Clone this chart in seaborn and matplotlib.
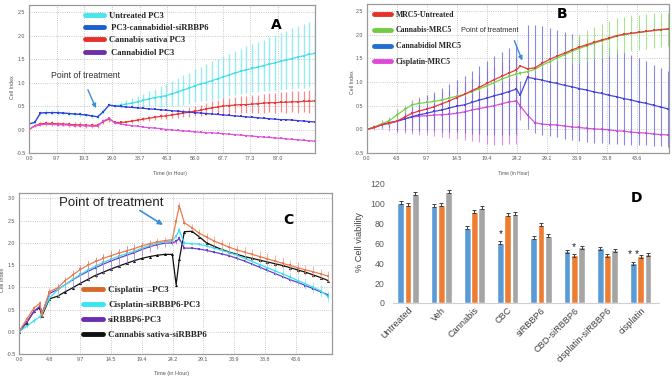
import matplotlib
matplotlib.use("Agg")
import matplotlib.pyplot as plt
import seaborn as sns
import pandas as pd
from matplotlib.lines import Line2D

sns.set_theme(style="white")
plt.rcParams['font.family'] = ['Liberation Sans', 'DejaVu Sans']

# ---------------- panel A : PC3, 0-100 h ----------------
time_a = [0, 2, 4, 6, 8, 10, 12, 14, 16, 18, 20, 22, 24, 26, 28,
          30, 32, 34, 36, 38, 40, 42, 44, 46, 48, 50, 52, 54, 56, 58, 60,
          62, 64, 66, 68, 70, 72, 74, 76, 78, 80, 82, 84, 86, 88, 90,
          92, 94, 96, 98, 100]
untreated_a = [0.12, 0.15, 0.35, 0.36, 0.36, 0.36, 0.35, 0.34, 0.33, 0.32, 0.31, 0.29, 0.27, 0.38, 0.52,
               0.50, 0.52, 0.54, 0.56, 0.59, 0.62, 0.65, 0.68, 0.70, 0.72, 0.76, 0.80, 0.84, 0.88, 0.93, 0.97,
               1.00, 1.04, 1.08, 1.12, 1.16, 1.20, 1.24, 1.27, 1.30, 1.33, 1.36, 1.39, 1.42, 1.45, 1.48,
               1.51, 1.54, 1.57, 1.60, 1.62]
untreated_a_err = [0.02, 0.03, 0.04, 0.05, 0.05, 0.05, 0.05, 0.05, 0.05, 0.05, 0.05, 0.05, 0.05, 0.05, 0.05,
                   0.05, 0.07, 0.08, 0.10, 0.12, 0.14, 0.16, 0.19, 0.22, 0.25, 0.27, 0.29, 0.31, 0.33, 0.35, 0.37,
                   0.39, 0.41, 0.43, 0.44, 0.45, 0.47, 0.48, 0.50, 0.51, 0.53, 0.55, 0.57, 0.59, 0.61, 0.62,
                   0.64, 0.66, 0.68, 0.69, 0.70]
cbd_si_a = [0.12, 0.15, 0.35, 0.36, 0.36, 0.36, 0.35, 0.34, 0.33, 0.32, 0.31, 0.29, 0.27, 0.38, 0.52,
            0.50, 0.49, 0.48, 0.47, 0.46, 0.45, 0.44, 0.43, 0.42, 0.41, 0.40, 0.39, 0.38, 0.37, 0.36, 0.35,
            0.34, 0.33, 0.32, 0.31, 0.30, 0.29, 0.28, 0.27, 0.26, 0.25, 0.24, 0.23, 0.22, 0.21, 0.21,
            0.20, 0.19, 0.18, 0.17, 0.16]
sativa_a = [0.00, 0.08, 0.12, 0.13, 0.13, 0.12, 0.12, 0.11, 0.10, 0.10, 0.09, 0.09, 0.09, 0.17, 0.22,
            0.15, 0.15, 0.16, 0.18, 0.20, 0.22, 0.24, 0.26, 0.28, 0.29, 0.31, 0.33, 0.35, 0.37, 0.39, 0.41,
            0.44, 0.46, 0.48, 0.50, 0.51, 0.52, 0.53, 0.53, 0.54, 0.55, 0.56, 0.57, 0.57, 0.58, 0.58,
            0.59, 0.59, 0.60, 0.60, 0.61]
sativa_a_err = [0.00, 0.03, 0.04, 0.05, 0.05, 0.05, 0.05, 0.05, 0.05, 0.05, 0.05, 0.05, 0.05, 0.05, 0.05,
                0.03, 0.03, 0.03, 0.04, 0.04, 0.04, 0.05, 0.05, 0.06, 0.06, 0.07, 0.08, 0.09, 0.10, 0.11, 0.12,
                0.13, 0.14, 0.15, 0.16, 0.17, 0.17, 0.18, 0.18, 0.19, 0.19, 0.20, 0.20, 0.21, 0.21, 0.22,
                0.22, 0.23, 0.23, 0.24, 0.24]
cbd_a = [0.00, 0.07, 0.10, 0.11, 0.11, 0.10, 0.10, 0.09, 0.08, 0.08, 0.08, 0.07, 0.07, 0.18, 0.24,
         0.14, 0.12, 0.10, 0.08, 0.07, 0.05, 0.04, 0.03, 0.02, 0.00, -0.01, -0.02, -0.03, -0.04, -0.05, -0.06,
         -0.07, -0.07, -0.08, -0.09, -0.10, -0.11, -0.12, -0.13, -0.14, -0.15, -0.16, -0.17, -0.18, -0.19, -0.20,
         -0.21, -0.22, -0.23, -0.24, -0.25]

# ---------------- panel B : MRC5, 0-49 h ----------------
time_b = [0, 1.2, 2.4, 3.6, 4.8, 6.1, 7.3, 8.5, 9.7, 10.9, 12.1, 13.3, 14.5, 15.8, 17.0, 18.2, 19.4,
          20.6, 21.8, 23.0, 24.2, 24.8, 26.0, 27.2, 28.4, 29.6, 30.8, 32.0, 33.2, 34.4, 35.6, 36.8,
          38.0, 39.2, 40.4, 41.6, 42.8, 44.0, 45.2, 46.4, 47.6, 48.8]
untreated_b = [0.00, 0.04, 0.10, 0.14, 0.17, 0.26, 0.34, 0.39, 0.43, 0.48, 0.54, 0.60, 0.67, 0.74, 0.82, 0.89, 0.97,
               1.05, 1.12, 1.19, 1.26, 1.34, 1.28, 1.30, 1.40, 1.48, 1.55, 1.61, 1.68, 1.74, 1.79, 1.84,
               1.89, 1.93, 1.98, 2.01, 2.03, 2.05, 2.07, 2.09, 2.11, 2.12]
cannabis_b = [0.00, 0.05, 0.12, 0.18, 0.30, 0.42, 0.52, 0.55, 0.57, 0.59, 0.62, 0.66, 0.70, 0.74, 0.80, 0.86, 0.92,
              0.99, 1.06, 1.12, 1.17, 1.19, 1.22, 1.27, 1.36, 1.43, 1.51, 1.58, 1.65, 1.71, 1.77, 1.82,
              1.87, 1.92, 1.97, 2.00, 2.03, 2.05, 2.07, 2.09, 2.11, 2.12]
cannabis_b_err = [0.00, 0.02, 0.05, 0.08, 0.10, 0.08, 0.05, 0.04, 0.04, 0.04, 0.04, 0.04, 0.04, 0.04, 0.04, 0.04, 0.04,
                  0.04, 0.04, 0.04, 0.04, 0.05, 0.03, 0.03, 0.04, 0.05, 0.06, 0.08, 0.25, 0.30, 0.32, 0.34,
                  0.36, 0.37, 0.38, 0.38, 0.38, 0.37, 0.37, 0.36, 0.36, 0.35]
cbd_b = [0.00, 0.04, 0.10, 0.14, 0.17, 0.22, 0.27, 0.31, 0.34, 0.38, 0.41, 0.45, 0.49, 0.52, 0.57, 0.62, 0.66,
         0.71, 0.75, 0.80, 0.85, 0.72, 1.10, 1.07, 1.04, 1.00, 0.97, 0.93, 0.90, 0.86, 0.83, 0.79,
         0.76, 0.72, 0.69, 0.65, 0.62, 0.58, 0.55, 0.51, 0.47, 0.43]
cbd_b_err = [0.00, 0.02, 0.05, 0.10, 0.20, 0.25, 0.30, 0.34, 0.38, 0.42, 0.46, 0.50, 0.55, 0.60, 0.66, 0.72, 0.78,
             0.84, 0.88, 0.92, 0.95, 0.30, 1.10, 1.14, 1.15, 1.15, 1.14, 1.13, 1.12, 1.10, 1.09, 1.07,
             1.05, 1.03, 1.01, 0.98, 0.95, 0.92, 0.89, 0.86, 0.83, 0.80]
cis_b = [0.00, 0.04, 0.10, 0.12, 0.17, 0.22, 0.26, 0.28, 0.29, 0.30, 0.31, 0.32, 0.34, 0.37, 0.41, 0.44, 0.47,
         0.50, 0.54, 0.58, 0.60, 0.50, 0.30, 0.14, 0.11, 0.10, 0.09, 0.07, 0.05, 0.04, 0.02, 0.01,
         0.00, -0.01, -0.03, -0.04, -0.06, -0.07, -0.08, -0.10, -0.11, -0.12]
cis_b_err = [0.00, 0.05, 0.10, 0.15, 0.25, 0.30, 0.35, 0.40, 0.42, 0.45, 0.48, 0.50, 0.55, 0.60, 0.65, 0.70, 0.78,
             0.84, 0.88, 0.90, 0.90, 0.30, 0.04, 0.03, 0.03, 0.03, 0.03, 0.03, 0.03, 0.03, 0.03, 0.03,
             0.03, 0.03, 0.03, 0.03, 0.03, 0.03, 0.03, 0.03, 0.03, 0.03]

# ---------------- panel C : PC3 + siRBBP6, 0-49 h ----------------
time_c = [0, 1.2, 2.4, 3.3, 3.6, 4.8, 6.1, 7.3, 8.5, 9.7, 10.9, 12.1, 13.3, 14.5, 15.8, 17.0, 18.2, 19.4,
          20.6, 21.8, 23.0, 24.2, 24.8, 25.3, 26.1, 27.3, 28.4, 29.6, 30.8, 32.0, 33.2, 34.4, 35.6,
          36.8, 38.0, 39.2, 40.4, 41.6, 42.8, 44.0, 45.2, 46.4, 47.6, 48.8]
cis_c = [0.00, 0.28, 0.54, 0.64, 0.38, 0.90, 0.99, 1.15, 1.28, 1.40, 1.50, 1.58, 1.65, 1.71, 1.77, 1.82, 1.87, 1.93,
         1.98, 2.02, 2.05, 2.07, 2.50, 2.83, 2.45, 2.34, 2.22, 2.13, 2.04, 1.97, 1.90, 1.84, 1.79,
         1.74, 1.69, 1.64, 1.59, 1.54, 1.49, 1.44, 1.39, 1.35, 1.30, 1.25]
cis_c_err = [0.00, 0.03, 0.05, 0.05, 0.05, 0.08, 0.08, 0.09, 0.10, 0.10, 0.10, 0.10, 0.10, 0.10, 0.10, 0.10, 0.10, 0.08,
             0.08, 0.08, 0.08, 0.08, 0.05, 0.08, 0.05, 0.08, 0.10, 0.10, 0.11, 0.12, 0.12, 0.12, 0.12,
             0.12, 0.13, 0.13, 0.13, 0.13, 0.13, 0.13, 0.12, 0.12, 0.12, 0.12]
cis_si_c = [0.00, 0.12, 0.25, 0.34, 0.40, 0.76, 0.94, 1.06, 1.18, 1.29, 1.39, 1.48, 1.56, 1.63, 1.70, 1.76, 1.81, 1.88,
            1.94, 1.99, 2.02, 2.04, 2.15, 2.28, 1.99, 1.98, 1.97, 1.93, 1.88, 1.83, 1.78, 1.72, 1.65,
            1.58, 1.51, 1.44, 1.37, 1.30, 1.23, 1.15, 1.08, 1.00, 0.92, 0.79]
cis_si_c_err = [0.00, 0.03, 0.05, 0.05, 0.05, 0.15, 0.15, 0.10, 0.08, 0.06, 0.05, 0.05, 0.05, 0.05, 0.05, 0.05, 0.05, 0.05,
                0.05, 0.05, 0.05, 0.05, 0.05, 0.08, 0.04, 0.04, 0.04, 0.04, 0.04, 0.05, 0.05, 0.06, 0.06,
                0.07, 0.08, 0.08, 0.09, 0.10, 0.10, 0.11, 0.12, 0.12, 0.13, 0.13]
si_c = [0.00, 0.22, 0.46, 0.58, 0.40, 0.86, 0.95, 1.06, 1.17, 1.27, 1.36, 1.44, 1.52, 1.59, 1.66, 1.72, 1.78, 1.85,
        1.91, 1.96, 1.99, 2.00, 2.03, 2.10, 1.88, 1.88, 1.86, 1.83, 1.79, 1.75, 1.71, 1.65, 1.59,
        1.52, 1.45, 1.38, 1.31, 1.24, 1.17, 1.11, 1.04, 0.97, 0.90, 0.83]
si_c_err = [0.00, 0.02, 0.03, 0.03, 0.03, 0.05, 0.10, 0.15, 0.18, 0.20, 0.22, 0.22, 0.22, 0.22, 0.20, 0.20, 0.18, 0.15,
            0.12, 0.10, 0.08, 0.05, 0.05, 0.05, 0.03, 0.03, 0.03, 0.03, 0.03, 0.03, 0.03, 0.03, 0.03,
            0.03, 0.03, 0.03, 0.03, 0.03, 0.03, 0.03, 0.03, 0.03, 0.03, 0.03]
sativa_si_c = [0.00, 0.20, 0.47, 0.54, 0.35, 0.74, 0.80, 0.90, 0.99, 1.09, 1.18, 1.27, 1.34, 1.41, 1.48, 1.54, 1.60, 1.65,
               1.69, 1.72, 1.74, 1.74, 1.06, 1.63, 2.25, 2.26, 2.14, 2.00, 1.92, 1.85, 1.79, 1.74, 1.69,
               1.65, 1.61, 1.57, 1.53, 1.49, 1.44, 1.39, 1.34, 1.28, 1.22, 1.15]

# ---------------- panel D : viability bars ----------------
groups_d = ['Untreated', 'Veh', 'Cannabis', 'CBC', 'siRBBP6', 'CBD-siRBBP6', 'cisplatin-siRBBP6', 'cisplatin']
series_d = ['s1', 's2', 's3']
viab_1 = [101, 98, 76, 61, 66, 52, 55, 40]
viab_2 = [99, 99, 92, 89, 79, 48, 48, 47]
viab_3 = [110, 112, 96, 90, 68, 56, 53, 49]
viab_err = 1.5

W, H = 672, 382
fig = plt.figure(figsize=(W / 100, H / 100), dpi=100)


def box(l, t, r, b):
    return [l / W, 1 - b / H, (r - l) / W, (b - t) / H]


def style_axes(ax, xlim, ylim, xticks, xlabels, yticks, ylabels):
    ax.set_xlim(*xlim)
    ax.set_ylim(*ylim)
    ax.set_xticks(xticks)
    ax.set_xticklabels(xlabels)
    ax.set_yticks(yticks)
    ax.set_yticklabels(ylabels)
    ax.tick_params(labelsize=3.8, colors='#555555', length=0, pad=2.5)
    ax.grid(True, linestyle=':', color='#b8b8b8', linewidth=0.6)
    for s in ax.spines.values():
        s.set_color('#9a9a9a')
        s.set_linestyle((0, (1, 1)))
        s.set_linewidth(0.9)
    ax.set_xlabel('')
    ax.set_ylabel('')


def draw(ax, t, y, err, color, marker='s', ecolor=None, ms=1.9, elw=0.6):
    if err is not None:
        ax.errorbar(t, y, yerr=err, fmt='none', ecolor=ecolor or color, elinewidth=elw, capsize=0, alpha=0.8)
    sns.lineplot(x=t, y=y, ax=ax, color=color, marker=marker, markersize=ms, markeredgewidth=0,
                 linewidth=0.9, estimator=None, sort=False)


def legend(ax, colors, labels, anchor, spacing, size=6.5):
    handles = [Line2D([0], [0], color=c, lw=3.5) for c in colors]
    ax.legend(handles, labels, loc='upper left', bbox_to_anchor=anchor, frameon=False,
              borderpad=0, borderaxespad=0, handlelength=2.2, handletextpad=0.6, labelspacing=spacing,
              prop={'family': 'Liberation Serif', 'weight': 'bold', 'size': size})


arrow_col = '#3b8fd9'

# ---- A
axa = fig.add_axes(box(29, 5, 315, 153))
draw(axa, time_a, untreated_a, untreated_a_err, '#45dfe6', ecolor='#7fe8ee', elw=1.0)
draw(axa, time_a, sativa_a, sativa_a_err, '#e83a3a', ecolor='#f07070', elw=0.9)
draw(axa, time_a, cbd_a, None, '#dc52dc')
draw(axa, time_a, cbd_si_a, None, '#3c3cd8')
xt_a = [0, 9.67, 19.33, 29.0, 38.67, 48.33, 58.0, 67.67, 77.33, 87.0]
style_axes(axa, (0, 100), (-0.5, 2.65), xt_a,
           ['0.0', '9.7', '19.3', '29.0', '38.7', '48.3', '58.0', '67.7', '77.3', '87.0'],
           [-0.5, 0, 0.5, 1.0, 1.5, 2.0, 2.5], ['-0.5', '0.0', '0.5', '1.0', '1.5', '2.0', '2.5'])
legend(axa, ['#45e6ee', '#1d5fcc', '#e8302a', '#6f2fa6'],
       ['Untreated PC3', ' PC3-cannabidiol-siRBBP6', 'Cannabis sativa PC3', ' Cannabidiol PC3'],
       (0.196, 0.955), 0.5, size=6.2)
axa.text(0.865, 0.865, 'A', transform=axa.transAxes, fontsize=10, fontweight='bold', color='black',
         family='DejaVu Sans', ha='center', va='center')
axa.text(19.9, 1.14, 'Point of treatment', fontsize=6.3, color='#333333', ha='center', va='center')
axa.annotate('', xy=(23.8, 0.40), xytext=(20.2, 0.90),
             arrowprops=dict(arrowstyle='-|>', color=arrow_col, lw=1.0, mutation_scale=6))
fig.text(13 / W, 1 - 87 / H, 'Cell Index', rotation=90, fontsize=3.8, color='#555555', ha='center', va='center')
fig.text(170 / W, 1 - 173 / H, 'Time (in Hour)', fontsize=3.8, color='#555555', ha='center', va='center')

# ---- B
axb = fig.add_axes(box(367, 4, 669, 153))
draw(axb, time_b, cis_b, cis_b_err, '#e04ad8', ecolor='#e070e0', elw=0.8)
draw(axb, time_b, cbd_b, cbd_b_err, '#4646d8', ecolor='#6a6ae0', elw=0.8)
draw(axb, time_b, cannabis_b, cannabis_b_err, '#78d048', ecolor='#8ee070', elw=0.8)
draw(axb, time_b, untreated_b, None, '#e83838')
xt_b = [0, 4.85, 9.7, 14.55, 19.4, 24.25, 29.1, 33.95, 38.8, 43.65]
xl_b = ['0.0', '4.8', '9.7', '14.5', '19.4', '24.2', '29.1', '33.9', '38.8', '43.6']
style_axes(axb, (0, 48.9), (-0.5, 2.65), xt_b, xl_b,
           [-0.5, 0, 0.5, 1.0, 1.5, 2.0, 2.5], ['-0.5', '0.0', '0.5', '1.0', '1.5', '2.0', '2.5'])
legend(axb, ['#e8302a', '#72cc44', '#1f6fd0', '#e048d8'],
       ['MRC5-Untreated', 'Cannabis-MRC5', 'Cannabidiol MRC5', 'Cisplatin-MRC5'],
       (0.023, 0.955), 1.0, size=5.6)
axb.text(0.645, 0.93, 'B', transform=axb.transAxes, fontsize=10, fontweight='bold', color='black',
         family='DejaVu Sans', ha='center', va='center')
axb.text(19.9, 2.10, 'Point of treatment', fontsize=5.3, color='#333333', ha='center', va='center')
axb.annotate('', xy=(25.3, 1.40), xytext=(23.7, 1.93),
             arrowprops=dict(arrowstyle='-|>', color=arrow_col, lw=1.0, mutation_scale=6))
fig.text(352 / W, 1 - 82 / H, 'Cell Index', rotation=90, fontsize=3.8, color='#555555', ha='center', va='center')
fig.text(514 / W, 1 - 173 / H, 'Time (in Hour)', fontsize=3.5, color='#555555', ha='center', va='center')

# ---- C
axc = fig.add_axes(box(19, 193, 332, 354))
draw(axc, time_c, sativa_si_c, None, '#111111', marker='^', ms=2.2)
draw(axc, time_c, si_c, si_c_err, '#6a3fd0', ecolor='#8a6ae0')
draw(axc, time_c, cis_si_c, cis_si_c_err, '#3fe0ee', ecolor='#70e8f0')
draw(axc, time_c, cis_c, cis_c_err, '#ee7a50', ecolor='#f09070')
style_axes(axc, (0, 49.4), (-0.5, 3.12), xt_b, xl_b,
           [-0.5, 0, 0.5, 1.0, 1.5, 2.0, 2.5, 3.0], ['-0.5', '0.0', '0.5', '1.0', '1.5', '2.0', '2.5', '3.0'])
legend(axc, ['#d8692a', '#38e6f0', '#6a2fb0', '#111111'],
       ['Cisplatin  \u2013PC3', 'Cisplatin-siRBBP6-PC3', 'siRBBP6-PC3', 'Cannabis sativa-siRBBP6'],
       (0.204, 0.425), 0.75)
axc.text(0.86, 0.83, 'C', transform=axc.transAxes, fontsize=10, fontweight='bold', color='black',
         family='DejaVu Sans', ha='center', va='center')
axc.text(14.5, 2.89, 'Point of treatment', fontsize=9.5, color='#222222', ha='center', va='center')
axc.annotate('', xy=(23.1, 2.37), xytext=(18.7, 2.76),
             arrowprops=dict(arrowstyle='-|>', color=arrow_col, lw=1.2, mutation_scale=7))
fig.text(3 / W, 1 - 280 / H, 'Cell Index', rotation=90, fontsize=4, color='#555555', ha='center', va='center')
fig.text(172 / W, 1 - 373 / H, 'Time (in Hour)', fontsize=4, color='#555555', ha='center', va='center')

# ---- D
df_d = pd.DataFrame({
    'group': groups_d * 3,
    'value': viab_1 + viab_2 + viab_3,
    'series': [s for s in series_d for _ in groups_d],
})
axd = fig.add_axes(box(393, 182, 659, 303))
sns.barplot(data=df_d, x='group', y='value', hue='series', palette=['#5b9bd5', '#ed7d31', '#a5a5a5'],
            width=0.66, gap=0.08, saturation=1, errorbar=None, legend=False, ax=axd)
bars = axd.patches
for p in bars:
    axd.errorbar(p.get_x() + p.get_width() / 2, p.get_height(), yerr=viab_err, fmt='none',
                 ecolor='#404040', elinewidth=0.7, capsize=1.5, capthick=0.7)
for idx, mark in [(3, '*'), (8 + 5, '*'), (7, '* *')]:
    p = bars[idx]
    axd.text(p.get_x() + p.get_width() / 2, p.get_height() + 8, mark, ha='center', va='center',
             fontsize=7.5, color='#222222')
axd.set_ylim(0, 122)
axd.set_xlim(-0.45, 7.55)
axd.set_yticks([0, 20, 40, 60, 80, 100, 120])
axd.tick_params(axis='y', labelsize=6.3, colors='#595959', length=0, pad=6)
axd.tick_params(axis='x', labelsize=6.6, colors='#404040', length=0, pad=2)
for lab in axd.get_xticklabels():
    lab.set_rotation(45)
    lab.set_ha('right')
    lab.set_rotation_mode('anchor')
axd.set_xlabel('')
axd.set_ylabel('% Cell viability', fontsize=6.6, color='#404040', labelpad=4)
for k in ['left', 'top', 'right']:
    axd.spines[k].set_visible(False)
axd.spines['bottom'].set_color('#d0d0d0')
axd.spines['bottom'].set_linewidth(0.8)
axd.text(0.915, 0.87, 'D', transform=axd.transAxes, fontsize=10, fontweight='bold', color='black',
         family='DejaVu Sans', ha='center', va='center')

fig.savefig('out.png', dpi=100)
